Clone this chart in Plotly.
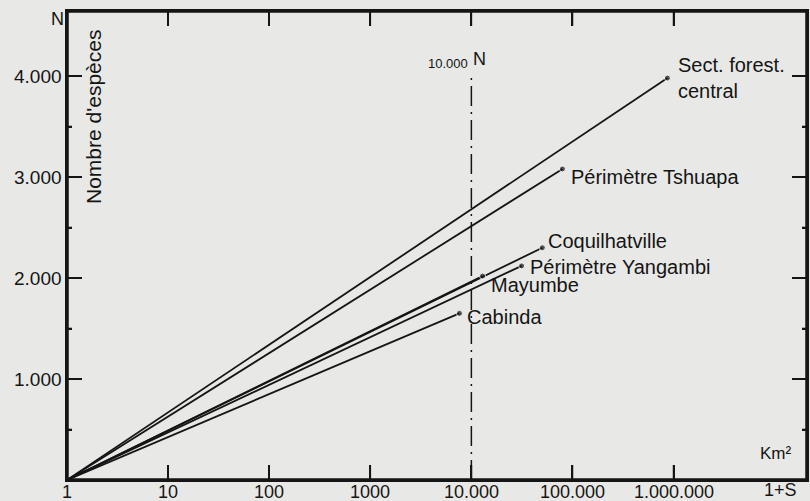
import math
import plotly.graph_objects as go

# ---- data ----
regions = ["Sect. forest.<br>central", "Périmètre Tshuapa", "Coquilhatville",
           "Périmètre Yangambi", "Mayumbe", "Cabinda"]
area_1s = [870000, 79600, 50400, 31400, 12900, 7620]      # 1+S, km²
species = [3980, 3080, 2300, 2120, 2020, 1650]            # N
origin_x = 1
origin_y = 0
ref_x = 10000
ref_top = 4010

x_tickvals = [1, 10, 100, 1000, 10000, 100000, 1000000]
x_ticktext = ["1", "10", "100", "1000", "10.000", "100.000", "1.000.000"]
y_tickvals = [1000, 2000, 3000, 4000]
y_ticktext = ["1.000", "2.000", "3.000", "4.000"]
y_minor = [500, 1500, 2500, 3500]

# label offsets in pixels (dx, dy) relative to end points
label_shift = [(9, 0), (7, -8), (4, 7), (6, -1), (6, -9), (6, -4)]

INK = "#151515"
BG = "#e8e8e6"
FONT = "Liberation Sans"

W, H = 810, 501
ML, MR, MT, MB = 67, 3, 11, 21
XMAX_LOG = 7.32
YMAX = 4644
PLOT_W = W - ML - MR
PLOT_H = H - MT - MB

fig = go.Figure()

for name, xv, yv in zip(regions, area_1s, species):
    fig.add_trace(go.Scatter(
        x=[origin_x, xv], y=[origin_y, yv], mode="lines+markers",
        line=dict(color=INK, width=1.8),
        marker=dict(size=[0, 6], color=INK),
        showlegend=False, hoverinfo="skip"))

fig.add_trace(go.Scatter(
    x=[ref_x, ref_x], y=[0, ref_top], mode="lines",
    line=dict(color=INK, width=1.5, dash="20px,6px,2px,6px"),
    showlegend=False, hoverinfo="skip"))

# frame and inward ticks (derived from the axis ranges and tick lists)
xmax = 10 ** XMAX_LOG
fig.add_trace(go.Scatter(
    x=[1, xmax, xmax, 1, 1], y=[0, 0, YMAX, YMAX, 0], mode="lines",
    line=dict(color=INK, width=3.5), showlegend=False, hoverinfo="skip"))

def dy(px):
    return px / PLOT_H * YMAX

def xlog(px):
    return px / PLOT_W * XMAX_LOG

tx, ty = [], []
for v in x_tickvals[1:]:
    tx += [v, v, None, v, v, None]
    ty += [0, dy(15), None, YMAX, YMAX - dy(15), None]
for vals, ln in ((y_tickvals, 15), (y_minor, 5)):
    for v in vals:
        tx += [1, 10 ** xlog(ln), None, xmax, 10 ** (XMAX_LOG - xlog(ln)), None]
        ty += [v, v, None, v, v, None]
fig.add_trace(go.Scatter(
    x=tx, y=ty, mode="lines", line=dict(color=INK, width=1.6),
    showlegend=False, hoverinfo="skip"))

annotations = []
for name, xv, yv, (dx, dyy) in zip(regions, area_1s, species, label_shift):
    annotations.append(dict(
        x=math.log10(xv), y=yv, xref="x", yref="y", text=name,
        showarrow=False, xanchor="left", yanchor="middle", align="left",
        xshift=dx, yshift=dyy, font=dict(family=FONT, size=20, color=INK)))

# axis tick labels
for v, t in zip(x_tickvals, x_ticktext):
    annotations.append(dict(
        x=math.log10(v), y=0, xref="x", yref="paper", text=t, showarrow=False,
        xanchor="center", yanchor="middle", yshift=-12,
        font=dict(family=FONT, size=18, color=INK)))
for v, t in zip(y_tickvals, y_ticktext):
    annotations.append(dict(
        x=0, y=v, xref="paper", yref="y", text=t, showarrow=False,
        xanchor="right", yanchor="middle", xshift=-3,
        font=dict(family=FONT, size=19, color=INK)))

annotations += [
    dict(x=math.log10(ref_x), y=ref_top, xref="x", yref="y", text="10.000",
         showarrow=False, xanchor="right", yanchor="middle", xshift=-1, yshift=12,
         font=dict(family=FONT, size=13, color=INK)),
    dict(x=math.log10(ref_x), y=ref_top, xref="x", yref="y", text="N",
         showarrow=False, xanchor="left", yanchor="middle", xshift=0, yshift=16,
         font=dict(family=FONT, size=18, color=INK)),
    dict(x=0, y=1, xref="paper", yref="paper", text="N", showarrow=False,
         xanchor="center", yanchor="middle", xshift=-10, yshift=-8,
         font=dict(family=FONT, size=18, color=INK)),
    dict(x=0, y=(480 - 117) / 469, xref="paper", yref="paper",
         text="Nombre d'espèces", textangle=-90, showarrow=False,
         xanchor="center", yanchor="middle", xshift=26,
         font=dict(family=FONT, size=21, color=INK)),
    dict(x=1, y=0, xref="paper", yref="paper", text="Km²", showarrow=False,
         xanchor="center", yanchor="middle", xshift=-31, yshift=27,
         font=dict(family=FONT, size=17, color=INK)),
    dict(x=1, y=0, xref="paper", yref="paper", text="1+S", showarrow=False,
         xanchor="center", yanchor="middle", xshift=-27, yshift=-10,
         font=dict(family=FONT, size=18, color=INK)),
]

fig.update_layout(
    width=W, height=H,
    margin=dict(l=ML, r=MR, t=MT, b=MB, autoexpand=False),
    paper_bgcolor=BG, plot_bgcolor=BG,
    annotations=annotations,
    font=dict(family=FONT, size=18, color=INK),
)
fig.update_xaxes(
    type="log", range=[0, XMAX_LOG], showgrid=False, zeroline=False,
    showline=True, linecolor=INK, linewidth=2, mirror="ticks",
    ticks="inside", ticklen=15, tickwidth=1.6, tickcolor=INK,
    tickvals=x_tickvals, showticklabels=False, automargin=False)
fig.update_yaxes(
    range=[0, YMAX], showgrid=False, zeroline=False,
    showline=True, linecolor=INK, linewidth=2, mirror="ticks",
    ticks="inside", ticklen=15, tickwidth=1.6, tickcolor=INK,
    tickvals=y_tickvals, showticklabels=False, automargin=False,
    minor=dict(tickvals=y_minor, ticks="inside", ticklen=5, tickwidth=1.6,
               tickcolor=INK, showgrid=False))

fig.write_html(
    "out.html",
    config={"displayModeBar": False},
    post_script="document.body.style.margin='0';",
)
